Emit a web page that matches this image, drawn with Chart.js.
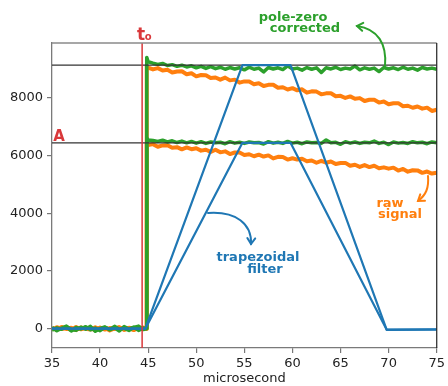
<!DOCTYPE html>
<html>
<head>
<meta charset="utf-8">
<script src="https://cdn.jsdelivr.net/npm/chart.js@4"></script>
<style>
html,body{margin:0;padding:0;background:#fff}
canvas{display:block}
</style>
</head>
<body>
<canvas id="pulseChart" width="448" height="386"></canvas>
<script>
// sample times (microsecond)
const micros = [
35, 35.5, 36, 36.5, 37, 37.5, 38, 38.5, 39, 39.5,
40, 40.5, 41, 41.5, 42, 42.5, 43, 43.5, 44, 44.5,
44.8, 44.85,
45, 45.5, 46, 46.5, 47, 47.5, 48, 48.5, 49, 49.5,
50, 50.5, 51, 51.5, 52, 52.5, 53, 53.5, 54, 54.5,
55, 55.5, 56, 56.5, 57, 57.5, 58, 58.5, 59, 59.5,
60, 60.5, 61, 61.5, 62, 62.5, 63, 63.5, 64, 64.5,
65, 65.5, 66, 66.5, 67, 67.5, 68, 68.5, 69, 69.5,
70, 70.5, 71, 71.5, 72, 72.5, 73, 73.5, 74, 74.5,
75]

// pole-zero corrected, big pulse
const pzHigh = [
40, -70, 20, 90, -30, -60, 50, -20, 80, -90,
10, 60, -40, 30, -80, 70, -10, 50, -60, 20,
0, 9400,
9250, 9200, 9160, 9190, 9120, 9150, 9090, 9130, 9070, 9110,
9040, 9090, 9020, 9080, 9010, 9060, 8990, 9050, 9000, 9040,
8970, 9060, 8990, 9030, 8900, 9050, 9000, 9040, 8980, 9110,
9000, 9030, 8960, 9050, 8990, 9040, 8880, 9040, 9000, 9060,
8980, 9030, 9000, 9100, 8970, 9040, 8990, 9030, 8910, 9050,
9000, 9040, 8980, 9060, 8990, 9030, 8960, 9050, 9000, 9030,
8990]

// pole-zero corrected, small pulse
const pzLow = [
-50, 30, -20, 60, -80, 40, -10, 70, -40, 20,
-70, 50, -30, 80, -20, 10, -60, 40, 90, -30,
10, 6600,
6540, 6520, 6490, 6530, 6470, 6510, 6450, 6500, 6440, 6490,
6430, 6480, 6420, 6470, 6440, 6460, 6410, 6480, 6430, 6460,
6420, 6470, 6440, 6450, 6400, 6480, 6430, 6460, 6420, 6490,
6430, 6460, 6410, 6470, 6440, 6450, 6420, 6540, 6440, 6460,
6390, 6480, 6430, 6470, 6420, 6460, 6440, 6500, 6420, 6460,
6380, 6470, 6430, 6450, 6420, 6480, 6440, 6460, 6410, 6470,
6440]

// raw signal, big pulse
const rawHigh = [
20, -40, 60, -10, 30, -50, 40, 0, -30, 50,
-20, 30, -60, 10, 40, -30, 20, -50, 30, -10,
0, 9100,
9050, 8985, 9030, 8945, 8970, 8880, 8915, 8920, 8815, 8850,
8745, 8790, 8785, 8690, 8705, 8630, 8700, 8605, 8630, 8525,
8570, 8565, 8470, 8505, 8410, 8450, 8455, 8350, 8365, 8290,
8335, 8260, 8295, 8180, 8225, 8215, 8120, 8155, 8160, 8055,
8070, 7995, 8050, 7965, 7990, 7890, 7935, 7930, 7835, 7870,
7775, 7810, 7815, 7710, 7725, 7655, 7700, 7625, 7660, 7545,
7590]

// raw signal, small pulse
const rawLow = [
-30, 50, -10, 20, -40, 60, -20, 30, 10, -50,
40, -30, 20, -10, 50, -40, 30, 10, -20, 40,
0, 6420,
6360, 6395, 6305, 6350, 6355, 6270, 6290, 6215, 6280, 6220,
6255, 6170, 6200, 6125, 6200, 6110, 6145, 6050, 6105, 6105,
6020, 6045, 5975, 6030, 5965, 6005, 5900, 5955, 5950, 5860,
5905, 5860, 5890, 5805, 5830, 5750, 5815, 5750, 5795, 5705,
5740, 5745, 5645, 5680, 5605, 5670, 5600, 5645, 5560, 5590,
5545, 5580, 5480, 5535, 5440, 5490, 5485, 5400, 5445, 5375,
5400]

// trapezoidal filter output
const trapTime = [35, 44.7, 54.8, 59.8, 69.8, 75]
const trapHigh = [0, 0, 9130, 9130, -45, -30]
const trapLow = [0, 0, 6440, 6440, -35, -20]

const ampLevels = [9130, 6440]
const t0 = 44.37

const xTicks = [35, 40, 45, 50, 55, 60, 65, 70, 75]
const yTicks = [0, 2000, 4000, 6000, 8000]
const xRange = [35, 75]
const yRange = [-670, 9900]

const GREEN = "#2ca02c"
const ORANGE = "#ff7f0e"
const BLUE = "#1f77b4"
const RED = "#d9383a"

function pts(xs, ys){
return xs.map((x, i) => ({x: x, y: ys[i]}))
}

function line(data, color, width, order){
return {data: data, borderColor: color, borderWidth: width, pointRadius: 0, tension: 0, fill: false, order: order, borderJoinStyle: "round"}
}

// hand-drawn style labels and arrows (canvas pixels)
const noteFont = "bold 13px 'DejaVu Sans'"
const notes = [
{text: "pole-zero", x: 293, y: 21, color: GREEN},
{text: "corrected", x: 305, y: 32, color: GREEN},
{text: "raw", x: 390, y: 207, color: ORANGE},
{text: "signal", x: 400, y: 218, color: ORANGE},
{text: "trapezoidal", x: 258, y: 261, color: BLUE},
{text: "filter", x: 265, y: 273, color: BLUE},
{text: "A", x: 59, y: 141, color: RED, font: "bold 15px 'DejaVu Sans'"}
]
const arrows = [
{color: GREEN, p: [[385, 66], [387, 44], [378, 29], [357, 26]]},
{color: ORANGE, p: [[428, 176], [429, 188], [426, 195], [418, 201]]},
{color: BLUE, p: [[208, 213], [236, 211], [252, 224], [251, 244]]}
]

const decorPlugin = {
id: "decor",
afterDatasetsDraw(chart){
const ctx = chart.ctx
const a = chart.chartArea
ctx.save()
ctx.lineWidth = 1.5
ctx.strokeStyle = "#8a8a8a"
ctx.beginPath()
ctx.moveTo(a.left, a.top)
ctx.lineTo(a.right, a.top)
ctx.stroke()
ctx.lineWidth = 1.2
ctx.strokeStyle = "#222"
ctx.beginPath()
ctx.moveTo(a.right, a.top)
ctx.lineTo(a.right, a.bottom)
ctx.stroke()
ctx.restore()
},
afterDraw(chart){
const ctx = chart.ctx
ctx.save()
ctx.textAlign = "center"
ctx.textBaseline = "alphabetic"
notes.forEach(n => {
ctx.font = n.font || noteFont
ctx.fillStyle = n.color
ctx.fillText(n.text, n.x, n.y)
})
// t0 label above the red line
const tx = chart.scales.x.getPixelForValue(t0)
ctx.fillStyle = RED
ctx.font = "bold 17px 'DejaVu Sans'"
ctx.fillText("t", tx - 1, 40)
ctx.font = "bold 10px 'DejaVu Sans'"
ctx.fillText("o", tx + 6, 40)

ctx.lineWidth = 2
ctx.lineCap = "round"
arrows.forEach(ar => {
const p = ar.p
ctx.strokeStyle = ar.color
ctx.beginPath()
ctx.moveTo(p[0][0], p[0][1])
ctx.bezierCurveTo(p[1][0], p[1][1], p[2][0], p[2][1], p[3][0], p[3][1])
ctx.stroke()
const ang = Math.atan2(p[3][1] - p[2][1], p[3][0] - p[2][0])
const s = 7
ctx.beginPath()
ctx.moveTo(p[3][0] - s * Math.cos(ang - 0.6), p[3][1] - s * Math.sin(ang - 0.6))
ctx.lineTo(p[3][0], p[3][1])
ctx.lineTo(p[3][0] - s * Math.cos(ang + 0.6), p[3][1] - s * Math.sin(ang + 0.6))
ctx.stroke()
})
ctx.restore()
}
}

const tickFont = {family: "'DejaVu Sans'", size: 13}

const pulseChart = new Chart(document.getElementById("pulseChart").getContext("2d"), {

type: "line",

data: {
datasets: [
line(pts([t0, t0], [yRange[0], yRange[1]]), RED, 1.5, 0),
line(pts(trapTime, trapHigh), BLUE, 2.2, 1),
line(pts(trapTime, trapLow), BLUE, 2.2, 1),
line(pts(xRange, [ampLevels[0], ampLevels[0]]), "#333", 1.2, 2),
line(pts(xRange, [ampLevels[1], ampLevels[1]]), "#333", 1.2, 2),
line(pts(micros, pzHigh), GREEN, 3.5, 3),
line(pts(micros, pzLow), GREEN, 3.5, 3),
line(pts(micros, rawHigh), ORANGE, 4, 4),
line(pts(micros, rawLow), ORANGE, 4, 4)
]
},

options: {
responsive: false,
animation: false,
layout: {padding: {top: 43, right: 10, bottom: 0, left: 0}},
plugins: {legend: {display: false}, tooltip: {enabled: false}},
scales: {
x: {
type: "linear",
min: xRange[0],
max: xRange[1],
afterBuildTicks: s => { s.ticks = xTicks.map(v => ({value: v})) },
afterFit: s => { s.height = 38 },
ticks: {font: tickFont, color: "#222", padding: 3, maxRotation: 0, callback: v => String(v)},
grid: {drawOnChartArea: false, drawTicks: true, tickLength: 5, color: "#777", lineWidth: 1.2},
border: {color: "#7a7a7a", width: 1.3},
title: {display: true, text: "microsecond", font: tickFont, color: "#222", padding: {top: 0, bottom: 0}}
},
y: {
type: "linear",
min: yRange[0],
max: yRange[1],
afterBuildTicks: s => { s.ticks = yTicks.map(v => ({value: v})) },
afterFit: s => { s.width = 52 },
ticks: {font: tickFont, color: "#222", padding: 4, callback: v => String(v)},
grid: {drawOnChartArea: false, drawTicks: true, tickLength: 5, color: "#777", lineWidth: 1.2},
border: {color: "#7a7a7a", width: 1.3}
}
}
},

plugins: [decorPlugin]

})
</script>
</body>
</html>
